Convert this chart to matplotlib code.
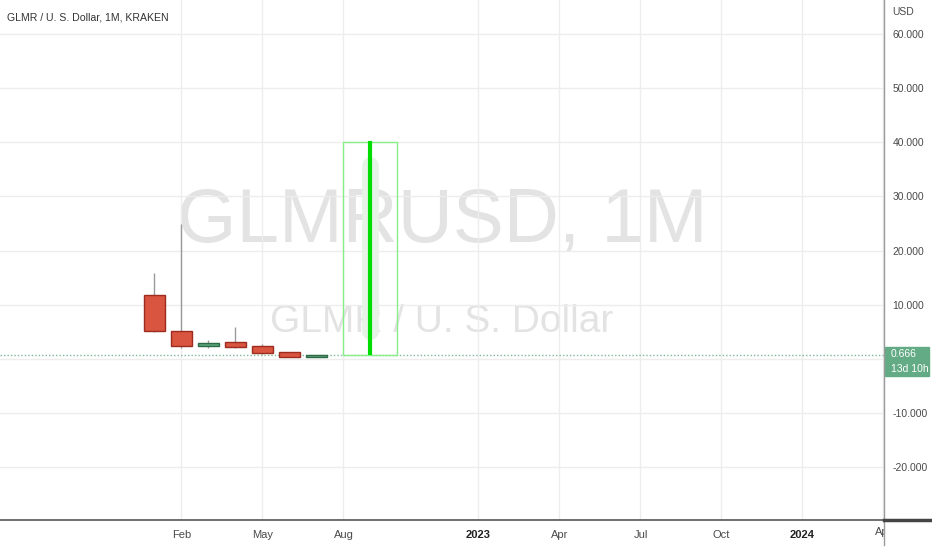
import matplotlib
matplotlib.use('Agg')
import matplotlib.pyplot as plt
from matplotlib.lines import Line2D
from matplotlib.patches import Rectangle
from matplotlib.transforms import Bbox, TransformedBbox
import pandas as pd

plt.rcParams['font.family'] = ['Liberation Sans', 'DejaVu Sans']

# Monthly candles GLMR/USD (Kraken)
months = ['2022-01', '2022-02', '2022-03', '2022-04', '2022-05', '2022-06', '2022-07']
opens = [11.75, 5.22, 2.45, 3.14, 2.40, 1.24, 0.45]
highs = [15.90, 24.90, 3.50, 5.90, 2.77, 1.35, 0.75]
lows = [5.04, 2.03, 2.08, 2.03, 1.01, 0.31, 0.40]
closes = [5.22, 2.45, 2.95, 2.16, 1.16, 0.42, 0.666]
last_price = '0.666'
countdown = '13d 10h'

# drawn annotation: box Aug-Oct 2022 and green line in Sep 2022
box_months = ['2022-08', '2022-10']
box_prices = [0.74, 40.0]
line_month = '2022-09'
line_prices = [1.1, 39.85]

# axis ticks
tick_months = ['2022-02', '2022-05', '2022-08', '2023-01', '2023-04', '2023-07', '2023-10', '2024-01']
tick_labels = ['Feb', 'May', 'Aug', '2023', 'Apr', 'Jul', 'Oct', '2024']
y_ticks = [-20, -10, 10, 20, 30, 40, 50, 60]
y_grid = [-20, -10, 0, 10, 20, 30, 40, 50, 60]


def midx(m):
    p = pd.Period(m, freq='M')
    return (p.year - 2022) * 12 + p.month - 1


fig = plt.figure(figsize=(9.32, 5.5), dpi=100)
ax = fig.add_axes([0, 30 / 550, 884 / 932, 520 / 550])
ax.set_xlim(-5.722, 27.02)
ax.set_ylim(-29.7, 66.24)

# grid
for v in y_grid:
    ax.axhline(v, color='#ededed', lw=1, zorder=1)
for m in tick_months + ['2024-04']:
    ax.axvline(midx(m), color='#ededed', lw=1, zorder=1)

# watermarks
ax.text(0.5, 0.536, 'GLMRUSD, 1M', transform=ax.transAxes, ha='center', va='baseline',
        fontsize=55, color='#d8d8d8', alpha=0.7, zorder=0)
ax.text(0.5, 0.362, 'GLMR / U. S. Dollar', transform=ax.transAxes, ha='center', va='baseline',
        fontsize=28, color='#d8d8d8', alpha=0.7, zorder=0)

# candles
xs = [midx(m) for m in months]
for x, o, h, l, c in zip(xs, opens, highs, lows, closes):
    up = c >= o
    fc = '#5ea67c' if up else '#d9553f'
    ec = '#2e6b47' if up else '#9c2c20'
    ax.vlines(x, l, h, color='#9a9a9a', lw=1, zorder=3)
    ax.bar(x, abs(c - o), bottom=min(o, c), width=0.78, color=fc, edgecolor=ec,
           lw=1, zorder=4)

# last price dotted line
ax.axhline(float(last_price), color='#7fb89a', lw=1, ls=(0, (1, 1.5)), zorder=2)

# annotation box and line
bx0, bx1 = midx(box_months[0]), midx(box_months[1])
ax.add_patch(Rectangle((bx0, box_prices[0]), bx1 - bx0, box_prices[1] - box_prices[0],
                       fill=False, edgecolor='#86ef86', lw=1, zorder=5))
lx = midx(line_month)
ax.plot([lx, lx], [line_prices[0] + 4, line_prices[1] - 4], color='#e6f3e6', lw=12,
        solid_capstyle='round', zorder=4)
ax.plot([lx, lx], line_prices, color='#00dd00', lw=3, zorder=6)

# axes styling
for s in ['top', 'left', 'right']:
    ax.spines[s].set_visible(False)
ax.spines['bottom'].set_color('#555555')
ax.spines['bottom'].set_linewidth(1.2)
ax.yaxis.tick_right()
ax.set_yticks(y_ticks)
ax.set_yticklabels([f'{v:.3f}' for v in y_ticks])
ax.tick_params(axis='y', length=0, pad=6, labelsize=7.5, labelcolor='#4a4a4a')
ax.set_xticks([midx(m) for m in tick_months])
ax.set_xticklabels(tick_labels)
ax.tick_params(axis='x', length=0, pad=7, labelsize=8, labelcolor='#4a4a4a')
for t in ax.get_xticklabels():
    if t.get_text() in ('2023', '2024'):
        t.set_fontweight('bold')
        t.set_color('#222222')

# clipped last x label at the price axis
clip = TransformedBbox(Bbox([[0, 0], [884 / 932, 1]]), fig.transFigure)
tl = ax.text(midx('2024-04'), -0.0135, 'Apr', transform=ax.get_xaxis_transform(),
             ha='center', va='top', fontsize=8, color='#4a4a4a')
tl.set_clip_box(clip)
tl.set_clip_on(True)

# price axis line and bottom stub
fig.add_artist(Line2D([884 / 932, 884 / 932], [5 / 550, 1], transform=fig.transFigure,
                      color='#9a9a9a', lw=1))
fig.add_artist(Line2D([884 / 932, 1], [30 / 550, 30 / 550], transform=fig.transFigure,
                      color='#444444', lw=2.5))

# price label
fig.add_artist(Rectangle((885 / 932, 1 - 376 / 550), 44 / 932, 29 / 550,
                         transform=fig.transFigure, color='#62ab85'))
fig.text(891 / 932, 1 - 354 / 550, last_price, color='white', fontsize=7.5, va='center')
fig.text(891 / 932, 1 - 369 / 550, countdown, color='white', fontsize=7.5, va='center')

# title and currency
fig.text(7 / 932, 1 - 18 / 550, 'GLMR / U. S. Dollar, 1M, KRAKEN', fontsize=7.6,
         color='#333333', va='center')
fig.text(892 / 932, 1 - 12 / 550, 'USD', fontsize=7.5, color='#4a4a4a', va='center')

fig.savefig('out.png', dpi=100, facecolor='white')
